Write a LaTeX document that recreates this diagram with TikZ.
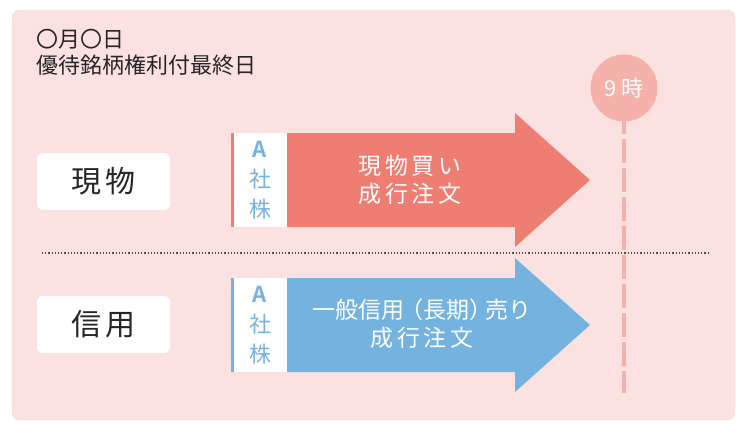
\documentclass[tikz,border=0pt]{standalone}
\usepackage{fontspec}
\newfontfamily\cjk{Noto Sans CJK JP}
\newfontfamily\cjkb{Noto Sans CJK JP Bold}
\definecolor{bg}{HTML}{FBE2E1}
\definecolor{redA}{HTML}{EE7E72}
\definecolor{blueA}{HTML}{74B3E0}
\definecolor{pinkL}{HTML}{F4B2AB}
\begin{document}
\begin{tikzpicture}[x=1pt,y=-1pt,
  lab/.style={fill=white,rounded corners=6pt,minimum width=133pt,minimum height=57pt,font=\cjk\fontsize{30}{30}\selectfont,text=black!85},
  atxt/.style={text=white,font=\cjk\fontsize{23}{28}\selectfont,align=center},
  sidetxt/.style={text=blueA,font=\cjk\fontsize{22}{30}\selectfont,align=center}]
\useasboundingbox (0,0) rectangle (750,434);
\fill[white] (0,0) rectangle (750,434);
\fill[bg,draw=black!12,rounded corners=8pt] (12,10) rectangle (735,420);
\node[anchor=north west,inner sep=0pt,align=left,font=\cjk\fontsize{22}{26}\selectfont,text=black!85] (title) at (36,29) {〇月〇日\\優待銘柄権利付最終日};
\node[lab] (gen) at (103.5,181.5) {現\,物};
\node[lab] (shin) at (103.5,324.5) {信\,用};
\draw[black!70,dotted,line width=1.2pt] (42,253) -- (708,253);
% time line
\draw[pinkL,line width=4pt,dash pattern=on 24pt off 5pt] (624,110) -- (624,393);
\node[circle,fill=pinkL,minimum size=67pt,text=white,font=\cjk\fontsize{22}{22}\selectfont] (nine) at (624,88) {9 時};
% red
\fill[redA] (287,133) -- (515,133) -- (515,113) -- (590,180) -- (515,247) -- (515,227) -- (287,227) -- cycle;
\fill[redA] (231,133) rectangle (234,227);
\fill[white] (234,133) rectangle (287,227);
\node[sidetxt] (ra) at (260,180) {{\cjkb A}\\社\\株};
\node[atxt] (rt) at (410,180) {現\,物\,買\,い\\成\,行\,注\,文};
% blue
\fill[blueA] (287,278) -- (515,278) -- (515,258) -- (590,325) -- (515,392) -- (515,372) -- (287,372) -- cycle;
\fill[blueA] (231,278) rectangle (234,372);
\fill[white] (234,278) rectangle (287,372);
\node[sidetxt] (ba) at (260,325) {{\cjkb A}\\社\\株};
\node[atxt] (bt) at (422,324) {一般信用\hspace{-0.15em}（長期）\hspace{-0.3em}売り\\成\,行\,注\,文};
\end{tikzpicture}
\end{document}
